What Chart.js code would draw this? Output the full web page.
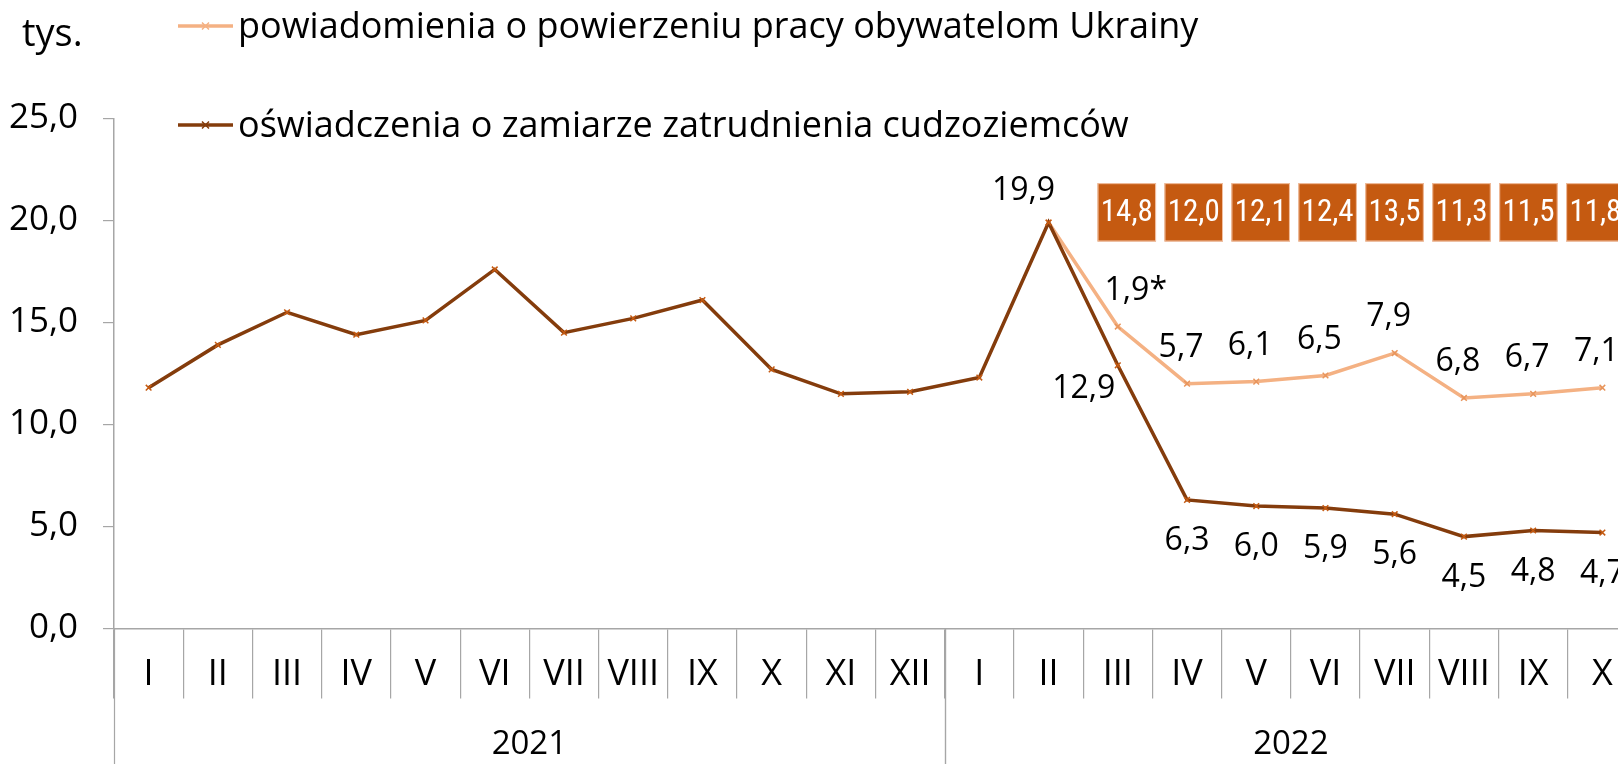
<!DOCTYPE html>
<html><head><meta charset="utf-8">
<script src="https://cdn.jsdelivr.net/npm/chart.js@4.4.0/dist/chart.umd.min.js"></script>
<style>html,body{margin:0;padding:0;overflow:hidden;background:#fff;width:1618px;height:764px}canvas{display:block}</style>
</head><body><canvas id="c" width="1660" height="764"></canvas>
<script>
// ---- data ----
const months = ['I','II','III','IV','V','VI','VII','VIII','IX','X','XI','XII','I','II','III','IV','V','VI','VII','VIII','IX','X'];
const years = ['2021','2022'];
const monthsPerYear = [12, 10];
const declarations = [11.8, 13.9, 15.5, 14.4, 15.1, 17.6, 14.5, 15.2, 16.1, 12.7, 11.5, 11.6, 12.3, 19.9, 12.9, 6.3, 6.0, 5.9, 5.6, 4.5, 4.8, 4.7];
const notifications = [null, null, null, null, null, null, null, null, null, null, null, null, null, 19.9, 14.8, 12.0, 12.1, 12.4, 13.5, 11.3, 11.5, 11.8];
const yTicks = [0, 5, 10, 15, 20, 25];
const unitLabel = 'tys.';
const footnoteMark = '*';

const FONT = "'Open Sans', 'Noto Sans', sans-serif";
const NARROW = "'Liberation Sans Narrow', 'Roboto Condensed', 'DejaVu Sans Condensed', sans-serif";
const fmt = v => v.toFixed(1).replace('.', ',');
const LIGHT = '#F4B183', DARK = '#843C0C', BOX = '#C55A11', AXIS = '#A6A6A6';

// label placement (styling only)
function labelOffsets(dsKey, i) {
  if (dsKey === 'dark') {
    if (i === 13) return [-25, -32];
    if (i === 14) return [-34, 24];
    if (i >= 15) return [0, 41];
    return null;
  } else {
    if (i === 14) return [18, -36];
    if (i >= 15) return [-6, -36];
    return null;
  }
}

const overlay = {
  id: 'overlay',
  afterDatasetsDraw(chart) {
    const ctx = chart.ctx, x = chart.scales.x, y = chart.scales.y;
    ctx.save();
    // data labels
    ctx.fillStyle = '#000';
    ctx.textAlign = 'center';
    ctx.textBaseline = 'middle';
    ctx.font = '32px ' + FONT;
    const darkMeta = chart.getDatasetMeta(1), lightMeta = chart.getDatasetMeta(0);
    declarations.forEach((v, i) => {
      const o = labelOffsets('dark', i); if (!o) return;
      const p = darkMeta.data[i];
      ctx.fillText(fmt(v), p.x + o[0], p.y + o[1]);
    });
    notifications.forEach((v, i) => {
      const o = labelOffsets('light', i); if (!o || v === null) return;
      const p = lightMeta.data[i];
      const diff = fmt(v - declarations[i]) + (i === 14 ? footnoteMark : '');
      ctx.fillText(diff, p.x + o[0], p.y + o[1]);
    });
    // boxes with totals
    let k = 0;
    notifications.forEach((v, i) => {
      if (v === null || i < 14) return;
      const cx = x.getPixelForValue(14.13 + k * 0.967);
      const top = y.getPixelForValue(21.83), bot = y.getPixelForValue(18.97);
      const w = 58.5;
      ctx.fillStyle = BOX;
      ctx.fillRect(cx - w / 2, top, w, bot - top);
      ctx.strokeStyle = 'rgba(255,220,200,0.8)';
      ctx.lineWidth = 1;
      ctx.strokeRect(cx - w / 2 + 0.5, top + 0.5, w - 1, bot - top - 1);
      ctx.fillStyle = '#fff';
      ctx.font = '31px ' + NARROW;
      ctx.fillText(fmt(v), cx, (top + bot) / 2 + 1);
      k++;
    });
    ctx.restore();
  },
  afterDraw(chart) {
    const ctx = chart.ctx, x = chart.scales.x;
    ctx.save();
    // year groups
    ctx.strokeStyle = AXIS; ctx.lineWidth = 1.2;
    let start = 0;
    const top = x.top, bottom = chart.height;
    years.forEach((yr, gi) => {
      const n = monthsPerYear[gi];
      const l = x.getPixelForValue(start - 0.5), r = x.getPixelForValue(start + n - 0.5);
      [l, r].forEach(px => { ctx.beginPath(); ctx.moveTo(Math.round(px) + 0.5, top); ctx.lineTo(Math.round(px) + 0.5, bottom); ctx.stroke(); });
      ctx.fillStyle = '#000'; ctx.font = '33px ' + FONT; ctx.textAlign = 'center'; ctx.textBaseline = 'middle';
      ctx.fillText(yr, (l + r) / 2, 745);
      start += n;
    });
    // unit label
    ctx.textAlign = 'left'; ctx.textBaseline = 'alphabetic';
    ctx.font = '38px ' + FONT; ctx.fillStyle = '#000';
    ctx.fillText(unitLabel, 22, 46);
    // legend
    const items = [chart.data.datasets[0], chart.data.datasets[1]];
    const rows = [26, 125];
    items.forEach((ds, r) => {
      const yy = rows[r];
      ctx.strokeStyle = ds.borderColor; ctx.lineWidth = 3.5;
      ctx.beginPath(); ctx.moveTo(178, yy); ctx.lineTo(233, yy); ctx.stroke();
      ctx.lineWidth = 1.5;
      ctx.beginPath(); ctx.moveTo(202, yy - 3.5); ctx.lineTo(209, yy + 3.5); ctx.moveTo(209, yy - 3.5); ctx.lineTo(202, yy + 3.5); ctx.stroke();
      ctx.fillStyle = '#000'; ctx.font = '36px ' + FONT; ctx.textBaseline = 'middle';
      ctx.fillText(ds.label, 238, yy + 2);
    });
    ctx.restore();
  }
};

new Chart(document.getElementById('c'), {
  type: 'line',
  data: {
    labels: months,
    datasets: [
      { label: 'powiadomienia o powierzeniu pracy obywatelom Ukrainy', data: notifications, borderColor: LIGHT, backgroundColor: LIGHT,
        borderWidth: 3.5, pointStyle: 'crossRot', pointRadius: 4, pointBorderWidth: 1.5, pointBorderColor: '#E8955C', tension: 0, order: 2, spanGaps: false },
      { label: 'oświadczenia o zamiarze zatrudnienia cudzoziemców', data: declarations, borderColor: DARK, backgroundColor: DARK,
        borderWidth: 3.5, pointStyle: 'crossRot', pointRadius: 4, pointBorderWidth: 1.5, pointBorderColor: '#C55A11', tension: 0, order: 1 }
    ]
  },
  options: {
    responsive: false, animation: false, events: [],
    layout: { padding: { left: 0, right: 23, top: 118.5, bottom: 0 } },
    plugins: { legend: { display: false }, tooltip: { enabled: false } },
    scales: {
      x: {
        offset: true,
        grid: { offset: true, drawOnChartArea: false, tickLength: 70, color: AXIS, lineWidth: 1.2 },
        border: { color: AXIS, width: 1.5 },
        ticks: { color: '#000', font: { family: FONT, size: 36 }, padding: -45, maxRotation: 0, autoSkip: false },
        afterFit(s) { s.height = 135.6; }
      },
      y: {
        min: 0, max: 25,
        afterBuildTicks(s) { s.ticks = yTicks.map(v => ({ value: v })); },
        ticks: { color: '#000', font: { family: FONT, size: 35 }, padding: 25, callback: v => fmt(v) },
        grid: { drawOnChartArea: false, tickLength: 11, color: AXIS, lineWidth: 1.2 },
        border: { color: AXIS, width: 1.5 },
        afterFit(s) { s.width = 114; }
      }
    }
  },
  plugins: [overlay]
});
</script>
</body></html>
